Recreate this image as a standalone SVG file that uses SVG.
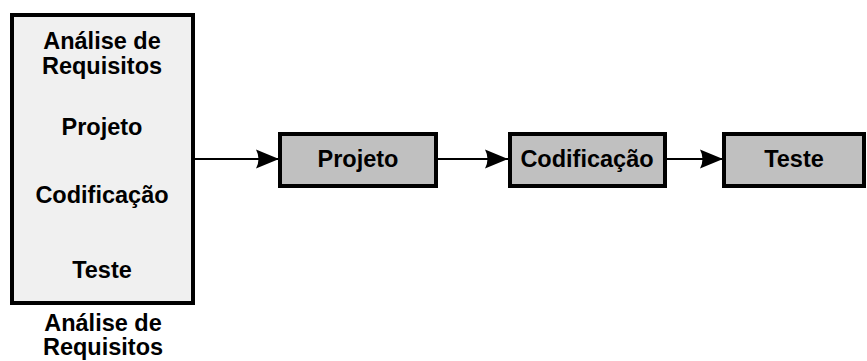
<svg xmlns="http://www.w3.org/2000/svg" width="867" height="361" viewBox="0 0 867 361">
<defs>
<style>
text{font-family:"Liberation Sans",Arial,sans-serif;font-weight:bold;font-size:23.5px;fill:#000;text-anchor:middle}
.big{fill:#f0f0f0;stroke:#000;stroke-width:4}
.box{fill:#c0c0c0;stroke:#000;stroke-width:4}
.conn{stroke:#000;stroke-width:2;fill:none;marker-end:url(#ah)}
</style>
<marker id="ah" markerUnits="userSpaceOnUse" markerWidth="24" markerHeight="20" refX="23" refY="10" orient="auto" viewBox="0 0 24 20">
<path d="M0,0.5 L23,10 L0,19.5 Q5,10 0,0.5 Z" fill="#000"/>
</marker>
</defs>
<g id="connectors">
<line class="conn" x1="195" y1="159" x2="279" y2="159"/>
<line class="conn" x1="438" y1="159" x2="508" y2="159"/>
<line class="conn" x1="667" y1="159" x2="723" y2="159"/>
</g>
<g id="node-waterfall">
<rect class="big" x="12" y="15" width="181" height="288"/>
<text x="102" y="49">Análise de</text>
<text x="102" y="74">Requisitos</text>
<text x="102" y="135">Projeto</text>
<text x="102" y="203">Codificação</text>
<text x="102" y="278">Teste</text>
</g>
<g id="label-bottom">
<text x="103" y="331">Análise de</text>
<text x="103" y="355">Requisitos</text>
</g>
<g id="node-projeto">
<rect class="box" x="280" y="134" width="156" height="52"/>
<text x="358" y="167">Projeto</text>
</g>
<g id="node-codificacao">
<rect class="box" x="510" y="134" width="155" height="52"/>
<text x="587" y="167">Codificação</text>
</g>
<g id="node-teste">
<rect class="box" x="724" y="134" width="140" height="52"/>
<text x="794" y="167">Teste</text>
</g>
</svg>
